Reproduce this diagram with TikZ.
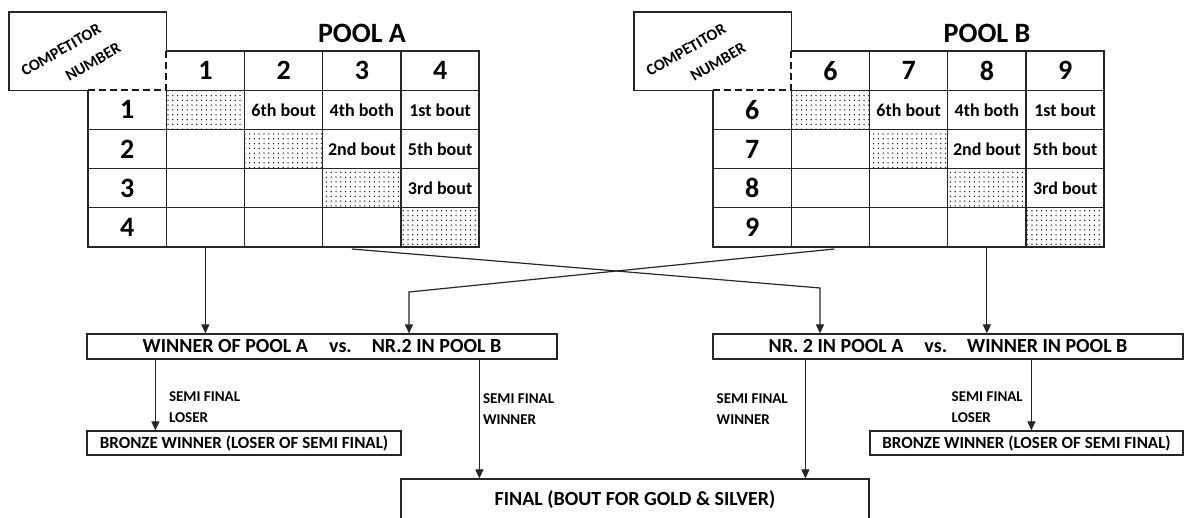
\documentclass[tikz,border=0pt]{standalone}
\usepackage{fontspec}
\setmainfont{Carlito}
\usepackage{tikz}
\usetikzlibrary{positioning,calc,patterns.meta,arrows.meta}

\tikzset{
  grid line/.style={draw=black!85, line width=1.2pt},
  cut line/.style={draw=black!90, line width=2pt, dash pattern=on 7pt off 4pt},
  cell/.style={minimum width=78.25pt, minimum height=39.2pt, inner sep=0pt, outer sep=0pt},
  dotcell/.style={cell, pattern={Dots[distance=4.8pt, radius=0.75pt]}, pattern color=black!90},
  numtext/.style={font=\fontsize{28}{28}\selectfont\bfseries},
  bouttext/.style={font=\fontsize{18}{18}\selectfont\bfseries},
  cornertext/.style={font=\fontsize{16}{16}\selectfont\bfseries, rotate=30, inner sep=0pt},
  titletext/.style={font=\fontsize{28}{28}\selectfont\bfseries},
  stagebox/.style={draw=black!85, line width=1.2pt, minimum height=25pt, inner sep=0pt, font=\fontsize{20}{20}\selectfont\bfseries},
  bronzebox/.style={stagebox, minimum height=24pt, font=\fontsize{17}{17}\selectfont\bfseries},
  arr/.style={draw=black!85, line width=1.2pt, -{Triangle[length=9pt, width=8pt]}},
  lbl/.style={font=\fontsize{15}{21}\selectfont\bfseries, align=left, inner sep=0pt},
}

\begin{document}
\begin{tikzpicture}[x=1pt, y=-1pt]
    \useasboundingbox (0,0) rectangle (1187,518);
    \clip (0,0) rectangle (1187,518);

    % the two pool tables
    \foreach \pool/\dx/\n in {A/0/0, B/625/5} {
      \begin{scope}[xshift=\dx pt]
        \foreach \r in {1,...,4}
          \foreach \c in {1,...,4} {
            \ifnum\r=\c \def\kind{dotcell}\else\def\kind{cell}\fi
            \node[\kind] (\pool-\r-\c) at (127.125+78.25*\c, 70.6+39.2*\r) {};
          }

        \draw[grid line] (166.25,51) -- (479,51) -- (479,247) -- (88,247) -- (88,90.2);
        \draw[grid line] (166.25,90.2) -- (479,90.2);
        \foreach \y in {129.4,168.6,207.8}
          \draw[grid line] (88,\y) -- (479,\y);
        \draw[grid line] (166.25,90.2) -- (166.25,247);
        \foreach \x in {244.5,322.75,401}
          \draw[grid line] (\x,51) -- (\x,247);

        % competitor number corner
        \draw[grid line] (166.25,51) -- (166.25,12) -- (9,12) -- (9,90.2) -- (88,90.2);
        \draw[cut line] (88,90.2) -- (166.25,90.2) -- (166.25,51);
        \node[cornertext] (\pool-comp) at (61,50) {COMPETITOR};
        \node[cornertext] (\pool-numb) at (93,62) {NUMBER};

        \node[titletext] (\pool-title) at (362,33) {POOL \pool};

        \foreach \c [evaluate=\c as \lab using int(\c+\n)] in {1,...,4} {
          \node[cell, numtext] (\pool-0-\c) at (127.125+78.25*\c, 70.6) {\lab};
          \node[cell, numtext] (\pool-\c-0) at (127.125, 70.6+39.2*\c) {\lab};
        }

        \foreach \r/\c/\txt in {1/2/6th bout, 1/3/4th both, 1/4/1st bout, 2/3/2nd bout, 2/4/5th bout, 3/4/3rd bout}
          \node[bouttext] (\pool-txt-\r-\c) at (\pool-\r-\c) {\txt};
      \end{scope}
    }

    % semi finals and finals
    \node[stagebox, minimum width=470pt] (semiA) at (322,346.5) {WINNER OF POOL A\hspace{21pt}vs.\hspace{20pt}NR.2 IN POOL B};
    \node[stagebox, minimum width=470pt] (semiB) at (948,346.5) {NR. 2 IN POOL A\hspace{21pt}vs.\hspace{20pt}WINNER IN POOL B};
    \node[bronzebox, minimum width=314pt] (bronzeA) at (244,443) {BRONZE WINNER (LOSER OF SEMI FINAL)};
    \node[bronzebox, minimum width=313pt] (bronzeB) at (1026.5,443) {BRONZE WINNER (LOSER OF SEMI FINAL)};
    \node[stagebox, minimum width=468pt, minimum height=42pt] (final) at (635,500) {FINAL (BOUT FOR GOLD \& SILVER)};

    % pool winners straight down
    \draw[arr] (A-4-1.south) -- (A-4-1.south |- semiA.north);
    \draw[arr] (B-4-3.south) -- (B-4-3.south |- semiB.north);

    % runners-up cross over
    \coordinate (fromA) at ($(A-4-3.south)+(-10,2)$);
    \coordinate (bendA) at (820,288);
    \draw[arr] (fromA) -- (bendA) -- (bendA |- semiB.north);
    \coordinate (fromB) at ($(B-4-1.south)+(4,2)$);
    \coordinate (bendB) at (409,292);
    \draw[arr] (fromB) -- (bendB) -- (bendB |- semiA.north);

    \coordinate (loseA) at ([xshift=69pt]semiA.south west);
    \coordinate (winA) at ([xshift=393pt]semiA.south west);
    \coordinate (winB) at ([xshift=93pt]semiB.south west);
    \coordinate (loseB) at ([xshift=319pt]semiB.south west);

    \draw[arr] (loseA) -- (loseA |- bronzeA.north)
        node[lbl, pos=0.67, right=13pt] (lblA) {SEMI FINAL\\LOSER};
    \draw[arr] (winA) -- (winA |- final.north)
        node[lbl, pos=0.42, right=3pt] (lblB) {SEMI FINAL\\WINNER};
    \draw[arr] (winB) -- (winB |- final.north)
        node[lbl, pos=0.42, left=17pt] (lblC) {SEMI FINAL\\WINNER};
    \draw[arr] (loseB) -- (loseB |- bronzeB.north)
        node[lbl, pos=0.67, left=8pt] (lblD) {SEMI FINAL\\LOSER};
\end{tikzpicture}
\end{document}
